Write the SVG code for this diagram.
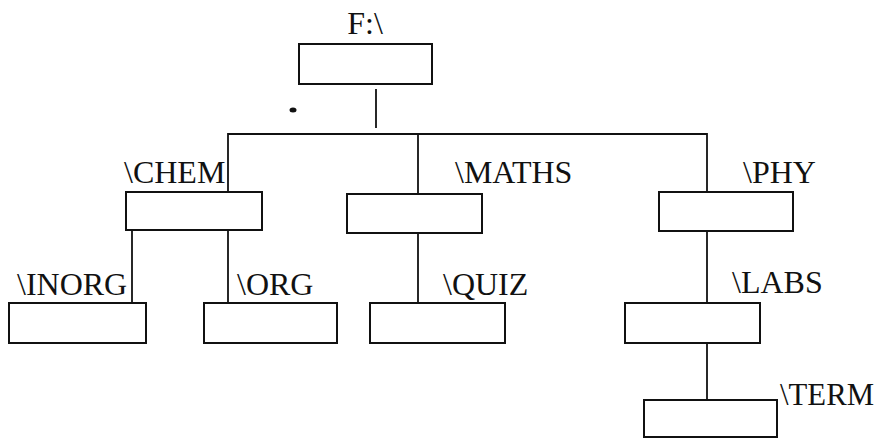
<svg xmlns="http://www.w3.org/2000/svg" width="877" height="438" viewBox="0 0 877 438">
<style>
.box{fill:#fff;stroke:#111;stroke-width:2}
.ln{stroke:#111;stroke-width:1.8;fill:none}
.lbl{font-family:"Liberation Serif","Times New Roman",serif;font-size:32px;fill:#111}
</style>
<rect width="877" height="438" fill="#fff"/>
<g id="connectors">
<line class="ln" x1="376" y1="89" x2="376" y2="128"/>
<polyline class="ln" points="228,192 228,134 707,134 707,192"/>
<line class="ln" x1="418" y1="134" x2="418" y2="194"/>
<line class="ln" x1="132" y1="230" x2="132" y2="303"/>
<line class="ln" x1="228" y1="230" x2="228" y2="303"/>
<line class="ln" x1="418" y1="233" x2="418" y2="303"/>
<line class="ln" x1="707" y1="231" x2="707" y2="303"/>
<line class="ln" x1="707" y1="343" x2="707" y2="400"/>
</g>
<ellipse cx="293" cy="110" rx="3.5" ry="2.5" fill="#111"/>
<g id="root">
<rect class="box" x="299" y="44" width="133" height="40"/>
<text class="lbl" x="365" y="34" text-anchor="middle">F:\</text>
</g>
<g id="chem">
<rect class="box" x="126" y="192" width="136" height="38"/>
<text class="lbl" x="124" y="183">\CHEM</text>
</g>
<g id="maths">
<rect class="box" x="347" y="194" width="135" height="39"/>
<text class="lbl" x="455" y="183">\MATHS</text>
</g>
<g id="phy">
<rect class="box" x="659" y="192" width="134" height="39"/>
<text class="lbl" x="743" y="183">\PHY</text>
</g>
<g id="inorg">
<rect class="box" x="9" y="303" width="137" height="40"/>
<text class="lbl" x="17" y="295">\INORG</text>
</g>
<g id="org">
<rect class="box" x="204" y="303" width="133" height="40"/>
<text class="lbl" x="237" y="295">\ORG</text>
</g>
<g id="quiz">
<rect class="box" x="370" y="303" width="135" height="40"/>
<text class="lbl" x="443" y="295">\QUIZ</text>
</g>
<g id="labs">
<rect class="box" x="625" y="303" width="135" height="40"/>
<text class="lbl" x="732" y="293">\LABS</text>
</g>
<g id="term">
<rect class="box" x="644" y="400" width="133" height="37"/>
<text class="lbl" x="780" y="405" textLength="94" lengthAdjust="spacingAndGlyphs">\TERM</text>
</g>
</svg>
